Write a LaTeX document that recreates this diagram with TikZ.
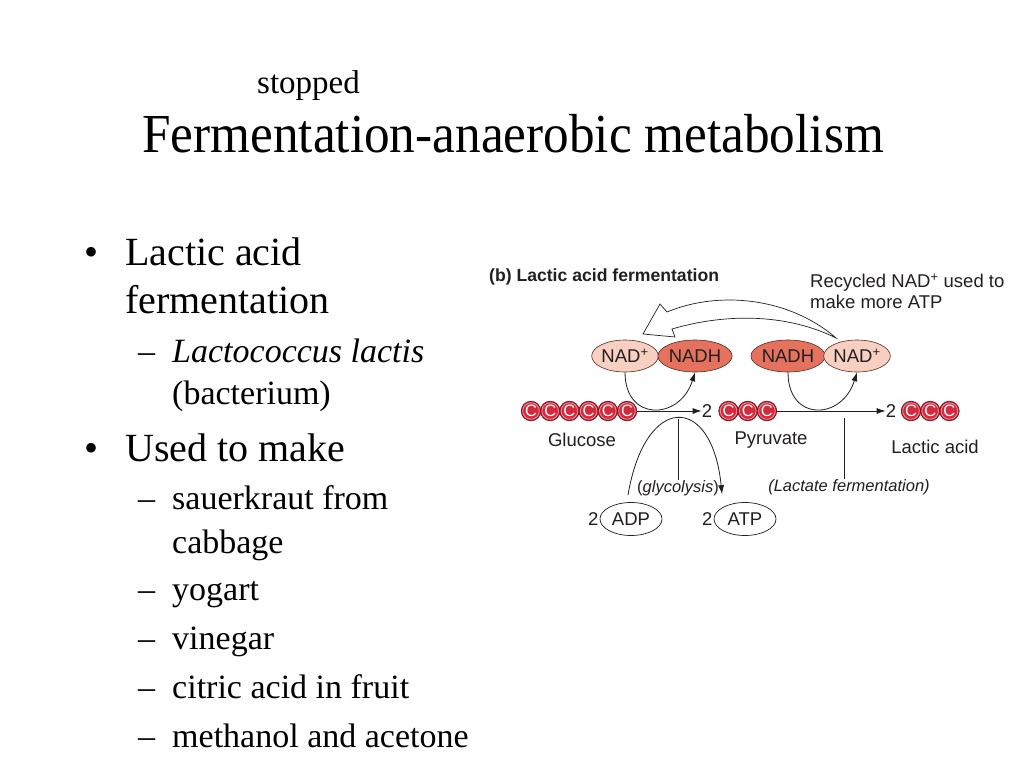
\documentclass[tikz,border=0pt]{standalone}
\usepackage{fontspec}
\setmainfont{Liberation Serif}
\setsansfont{Liberation Sans}
\usepackage{tikz}
\usetikzlibrary{positioning}
\usetikzlibrary{shapes.geometric}
\usetikzlibrary{arrows.meta}
\definecolor{cred}{HTML}{D42A3C}
\definecolor{cdark}{HTML}{7A1424}
\definecolor{cring}{HTML}{EE9AA2}
\definecolor{nadpale}{HTML}{F8D0C2}
\definecolor{nadhred}{HTML}{E4725F}
\definecolor{edark}{HTML}{5C2A22}
\definecolor{ink}{HTML}{231F20}

\begin{document}
\begin{tikzpicture}[x=1pt,y=-1pt,
  txt/.style={anchor=base west,inner sep=0},
  lone/.style={txt,font=\fontsize{40}{40}\selectfont},
  ltwo/.style={txt,font=\fontsize{34}{34}\selectfont},
  sans/.style={inner sep=0,text=ink,font=\sffamily\fontsize{18.5}{21}\selectfont},
  tip/.style={-{Latex[length=9pt,width=6pt]},line width=.8pt,ink},
  carbon/.style={circle,fill=cred,draw=cdark,line width=.8pt,minimum size=19.5pt,inner sep=0,
    text=white,font=\sffamily\fontsize{16.5}{16.5}\selectfont,
    path picture={\draw[cring,line width=.7pt] (path picture bounding box.center) circle (8.3pt);}},
  nad/.style={ellipse,draw=edark,line width=.6pt,fill=nadpale,minimum height=32pt,inner sep=0,sans},
  nadh/.style={nad,fill=nadhred},
  pill/.style={ellipse,draw=ink,line width=.7pt,fill=white,minimum width=62pt,minimum height=33pt,inner sep=0,sans}]
\useasboundingbox[fill=white] (0,0) rectangle (1024,768);
% slide text
\node[txt,font=\fontsize{33}{33}\selectfont] (stop) at (257,93) {stopped};
\node[txt,font=\fontsize{55}{55}\selectfont] (title) at (142,152) {\scalebox{.932}[1]{Fermentation-anaerobic metabolism}};
\node[lone] (bul1) at (84,265) {\textbullet};
\node[lone] (lac) at (125,265) {Lactic acid};
\node[lone] (ferm) at (125,313) {fermentation};
\node[ltwo] (dash1) at (138,362) {\textendash};
\node[ltwo] (lcl) at (172,362) {\itshape Lactococcus lactis};
\node[ltwo] (bact) at (172,404) {(bacterium)};
\node[lone] (bul2) at (84,461) {\textbullet};
\node[lone] (used) at (125,461) {Used to make};
\foreach \Y/\T in {509/sauerkraut from,600/yogart,649/vinegar,698/citric acid in fruit,747/methanol and acetone}
{\node[ltwo] (dash-\Y) at (138,\Y) {\textendash};
\node[ltwo] (item-\Y) at (172,\Y) {\T};}
\node[ltwo] (cabb) at (172,553) {cabbage};
% figure (b)
\node[sans,anchor=west,font=\sffamily\bfseries\fontsize{17.6}{20}\selectfont] (fig) at (489,277) {(b) Lactic acid fermentation};
\node[sans,anchor=north west,align=left] (recyc) at (810,274) {Recycled NAD\textsuperscript{+} used to\\make more ATP};
\foreach \i in {1,...,6}
{\node[carbon] (g\i) at ({531+19.2*(\i-1)},411) {C};}
\node[sans] (twoP) at (707,411) {2};
\foreach \i in {1,2,3}
{\node[carbon] (p\i) at ({728.5+19.2*(\i-1)},411) {C};
\node[carbon] (l\i) at ({911+19.2*(\i-1)},411) {C};}
\node[sans] (twoL) at (891,411) {2};
\node[sans] (glu) at (582,440) {Glucose};
\node[sans] (pyr) at (771,440) {Pyruvate};
\node[sans] (lacid) at (935,447) {Lactic acid};
\node[nad,minimum width=63pt] (nadL) at (625,356) {NAD\textsuperscript{+}};
\node[nadh,minimum width=64pt] (nadhL) at (695,356) {NADH};
\node[nadh,minimum width=67pt] (nadhR) at (788,356) {NADH};
\node[nad,minimum width=65pt] (nadR) at (857,356) {NAD\textsuperscript{+}};
\node[pill] (adp) at (631,519) {ADP};
\node[sans,left=1pt of adp] (twoA) {2};
\node[pill] (atp) at (745,519) {ATP};
\node[sans,left=1pt of atp] (twoT) {2};
\node[sans,font=\sffamily\fontsize{16.5}{18}\selectfont] (glyc) at (678,488) {(\textit{glycolysis})};
\node[sans,font=\sffamily\itshape\fontsize{16.5}{18}\selectfont] (lact) at (849,487) {(Lactate fermentation)};
% arrows
\draw[tip] (g6.east) -- (twoP.west);
\draw[tip] (p3.east) -- (twoL.west);
\draw[tip] (nadL.south) .. controls +(0,50) and +(-15,48) .. (nadhL.south);
\draw[tip] (nadhR.south) .. controls +(0,50) and +(-15,48) .. (nadR.south);
\coordinate (gs) at ([shift={(-3,-7)}]adp.north);
\coordinate (ge) at ([shift={(-23,-8)}]atp.north);
\draw[tip] (gs) .. controls (645,393) and (712,393) .. (ge);
\coordinate (peak) at (678,419);
\draw[line width=.7pt,ink] (peak) -- (glyc.north);
\coordinate (lf) at (844,418);
\draw[line width=.7pt,ink] (lf) -- (lact.north -| lf);
% recycled NAD+ arrow
\draw[line width=.7pt,ink,fill=white,line join=miter] (836,338) .. controls (790,298) and (720,290) .. (667,312)
  -- (660,304) -- (643,334) -- (675,337) -- (672,329) .. controls (730,312) and (790,315) .. (836,338) -- cycle;
\end{tikzpicture}
\end{document}
